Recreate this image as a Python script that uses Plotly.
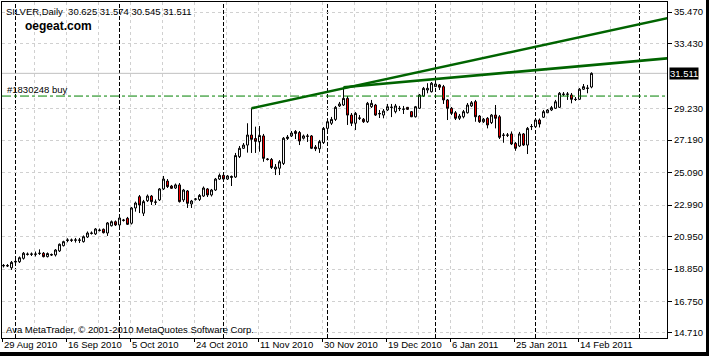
import plotly.graph_objects as go

# ---------------- data (SILVER, Daily) ----------------
open_ = [19.05, 19.08, 18.93, 19.30, 19.32, 19.54, 19.82, 19.80, 19.82, 19.85,
         19.87, 19.65, 19.79, 19.76, 20.02, 20.36, 20.69, 20.73, 20.71, 20.73,
         20.62, 20.92, 21.18, 21.12, 21.37, 21.42, 21.18, 21.65, 21.91, 21.70,
         22.02, 22.13, 21.81, 22.80, 23.53, 22.46, 23.27, 23.57, 23.19, 23.32,
         24.03, 24.54, 24.22, 24.09, 24.29, 23.32, 23.90, 23.06, 23.36, 23.35,
         23.57, 24.03, 23.64, 23.96, 24.67, 24.91, 24.67, 24.77, 24.80, 26.12,
         26.66, 26.87, 27.52, 27.29, 27.09, 27.46, 25.97, 25.94, 25.32, 25.37,
         25.68, 27.29, 27.46, 27.75, 27.68, 27.31, 27.46, 27.46, 26.74, 26.63,
         27.03, 27.95, 28.28, 28.53, 29.40, 29.46, 29.89, 28.81, 28.28, 28.60,
         28.54, 28.38, 29.35, 29.46, 28.88, 28.81, 29.14, 29.30, 29.03, 29.25,
         29.18, 29.31, 29.03, 28.70, 29.25, 30.04, 30.43, 30.32, 30.65, 30.76,
         30.65, 29.79, 29.25, 28.96, 28.60, 28.70, 28.96, 29.40, 29.68, 28.75,
         28.38, 28.60, 28.32, 28.81, 28.70, 27.52, 27.50, 27.59, 26.98, 26.81,
         27.59, 26.87, 28.06, 28.06, 28.49, 28.67, 28.96, 29.14, 29.25, 29.31,
         30.17, 30.15, 30.11, 29.83, 29.83, 30.48, 30.53, 30.625]
high = [19.17, 19.17, 19.37, 19.43, 19.66, 19.95, 19.92, 19.92, 19.98, 20.12,
        19.95, 19.92, 19.85, 20.14, 20.50, 20.68, 20.84, 20.82, 20.86, 20.86,
        21.02, 21.28, 21.28, 21.50, 21.47, 21.47, 21.89, 21.99, 21.99, 22.22,
        22.09, 22.22, 22.86, 23.21, 23.64, 23.32, 23.67, 23.64, 23.35, 24.09,
        24.87, 24.67, 24.29, 24.38, 24.41, 24.03, 23.96, 23.32, 23.44, 23.70,
        24.19, 24.09, 24.03, 24.74, 25.03, 25.00, 24.93, 24.90, 26.36, 26.81,
        27.00, 28.28, 29.25, 28.06, 28.10, 27.59, 26.03, 26.03, 25.64, 25.90,
        27.39, 27.52, 27.78, 27.84, 27.78, 27.55, 27.59, 27.52, 26.87, 27.20,
        28.04, 28.56, 28.69, 29.40, 29.66, 30.61, 30.04, 28.94, 29.01, 28.81,
        28.62, 29.66, 29.79, 29.53, 29.14, 29.20, 29.53, 29.53, 29.53, 29.40,
        29.40, 29.33, 29.07, 29.40, 30.17, 30.63, 30.87, 30.95, 31.19, 30.82,
        30.76, 29.85, 29.33, 29.07, 28.88, 29.14, 29.59, 29.72, 29.79, 28.81,
        28.62, 28.68, 28.88, 29.46, 28.81, 27.65, 27.65, 27.75, 27.07, 27.72,
        27.65, 28.04, 28.23, 28.62, 28.59, 29.14, 29.20, 29.40, 29.79, 30.30,
        30.30, 30.30, 30.24, 29.98, 30.56, 30.82, 30.76, 31.574]
low = [18.95, 18.98, 18.79, 19.21, 19.24, 19.46, 19.72, 19.69, 19.66, 19.76,
       19.60, 19.60, 19.69, 19.66, 19.95, 20.31, 20.58, 20.60, 20.56, 20.53,
       20.56, 20.86, 21.08, 21.05, 21.28, 21.15, 20.99, 21.60, 21.63, 21.44,
       21.92, 21.70, 21.73, 22.56, 22.47, 22.28, 23.19, 22.99, 22.99, 23.25,
       23.96, 24.09, 24.03, 24.03, 23.15, 23.19, 22.80, 22.80, 23.28, 23.25,
       23.51, 23.51, 23.54, 23.90, 24.61, 24.61, 24.61, 24.22, 24.74, 26.03,
       26.62, 26.38, 26.36, 26.36, 26.44, 25.79, 25.87, 25.32, 24.93, 24.93,
       25.58, 27.20, 27.39, 27.26, 26.87, 27.23, 27.07, 26.61, 26.48, 26.36,
       26.94, 27.84, 28.17, 28.43, 29.33, 29.40, 28.17, 28.10, 27.84, 28.49,
       28.30, 28.30, 29.27, 28.75, 28.62, 28.60, 29.07, 28.68, 28.92, 29.07,
       28.88, 29.14, 28.68, 28.65, 29.20, 29.98, 30.22, 30.27, 30.63, 30.43,
       29.53, 28.49, 28.81, 28.49, 28.49, 28.60, 28.91, 29.33, 28.38, 28.30,
       28.30, 27.95, 28.23, 27.95, 27.26, 27.02, 27.39, 26.87, 26.50, 26.74,
       26.81, 26.29, 27.84, 27.97, 28.01, 28.62, 28.94, 29.07, 29.20, 29.27,
       30.04, 29.79, 29.57, 29.72, 29.79, 30.43, 30.22, 30.545]
close = [19.08, 19.05, 19.28, 19.34, 19.58, 19.87, 19.80, 19.82, 19.81, 19.87,
         19.65, 19.85, 19.76, 20.08, 20.45, 20.62, 20.73, 20.71, 20.73, 20.71,
         20.94, 21.18, 21.16, 21.44, 21.35, 21.20, 21.83, 21.91, 21.70, 22.15,
         22.00, 21.74, 22.80, 23.12, 22.99, 23.21, 23.57, 23.21, 23.17, 24.03,
         24.67, 24.18, 24.07, 24.29, 23.21, 23.96, 23.10, 23.25, 23.38, 23.61,
         24.09, 23.64, 23.96, 24.67, 24.91, 24.67, 24.87, 24.84, 26.19, 26.66,
         26.87, 27.52, 27.24, 27.11, 27.49, 26.01, 25.94, 25.42, 25.45, 25.79,
         27.31, 27.39, 27.65, 27.62, 27.13, 27.46, 27.44, 26.66, 26.63, 27.09,
         27.95, 28.38, 28.53, 29.31, 29.53, 29.89, 28.81, 28.28, 28.92, 28.62,
         28.38, 29.57, 29.57, 28.81, 28.91, 29.07, 29.35, 29.32, 29.40, 29.23,
         29.20, 29.18, 28.70, 29.35, 30.11, 30.54, 30.54, 30.87, 30.82, 30.61,
         29.79, 29.25, 28.92, 28.60, 28.75, 29.03, 29.46, 29.61, 28.70, 28.38,
         28.54, 28.17, 28.81, 28.60, 27.37, 27.50, 27.52, 26.94, 26.66, 27.59,
         26.87, 27.95, 28.07, 28.49, 28.23, 29.03, 29.14, 29.29, 29.67, 30.22,
         30.15, 30.17, 29.83, 29.82, 30.48, 30.65, 30.56, 31.511]

date_labels = ["29 Aug 2010", "16 Sep 2010", "5 Oct 2010", "24 Oct 2010",
               "11 Nov 2010", "30 Nov 2010", "19 Dec 2010", "6 Jan 2011",
               "25 Jan 2011", "14 Feb 2011"]
bars_per_label = 16
month_start_bars = [3, 29, 55, 81, 108, 133, 159]

price_ticks = [35.470, 33.430, 29.230, 27.190, 25.090, 22.990, 20.950, 18.850, 16.750, 14.710]

trend1_bars = [62, 166]
trend1_prices = [29.25, 35.08]
trend2_bars = [85, 166]
trend2_prices = [30.61, 32.48]

order_price = 30.04
order_label = "#1830248 buy"
bid_price = 31.511
title_text = "SILVER,Daily\u00a0 30.625 31.574 30.545 31.511"

# ---------------- layout helpers ----------------
W, H = 709, 356
L, R, T, B = 2, 42, 2, 18
PW, PH = W - L - R, H - T - B
FONT = "Liberation Sans, Arial, sans-serif"


def px_x(px):
    return (px - L) / PW


def px_y(py):
    return (H - B - py) / PH


bars = list(range(len(open_)))
label_pos = [-0.25 + bars_per_label * k for k in range(len(date_labels))]
minor_pos = [p + bars_per_label / 2 for p in label_pos] + [label_pos[-1] + 24]

fig = go.Figure()

fig.add_trace(go.Candlestick(
    x=bars, open=open_, high=high, low=low, close=close,
    increasing=dict(line=dict(color="black", width=1), fillcolor="white"),
    decreasing=dict(line=dict(color="black", width=1), fillcolor="#ff0000"),
    whiskerwidth=0, hoverinfo="skip", showlegend=False,
))

for bx, py in ((trend1_bars, trend1_prices), (trend2_bars, trend2_prices)):
    fig.add_trace(go.Scatter(x=bx, y=py, mode="lines",
                             line=dict(color="#006400", width=2.6),
                             hoverinfo="skip", showlegend=False))

shapes = []
for b in month_start_bars:
    shapes.append(dict(type="line", xref="x", yref="paper", x0=b, x1=b, y0=0, y1=1,
                       line=dict(color="black", width=1, dash="4px,2px"), layer="between"))
shapes.append(dict(type="line", xref="paper", yref="y", x0=0, x1=1, y0=bid_price, y1=bid_price,
                   line=dict(color="#c0c0c0", width=1), layer="between"))
shapes.append(dict(type="line", xref="paper", yref="y", x0=0, x1=1, y0=order_price, y1=order_price,
                   line=dict(color="#008000", width=1, dash="9px,3px,3px,3px"), layer="above"))
# window frame (right and bottom dark edges)
shapes.append(dict(type="rect", xref="paper", yref="paper", x0=px_x(706), x1=px_x(710),
                   y0=px_y(357), y1=px_y(0), fillcolor="black", line=dict(width=0), layer="above"))
shapes.append(dict(type="rect", xref="paper", yref="paper", x0=px_x(-1), x1=px_x(710),
                   y0=px_y(357), y1=px_y(352), fillcolor="black", line=dict(width=0), layer="above"))

annotations = []
annotations.append(dict(xref="paper", yref="paper", x=px_x(4), y=px_y(11.5), text=title_text,
                        showarrow=False, xanchor="left", yanchor="middle",
                        font=dict(family=FONT, size=9.5, color="black")))
annotations.append(dict(xref="paper", yref="paper", x=px_x(23), y=px_y(26.5), text="<b>oegeat.com</b>",
                        showarrow=False, xanchor="left", yanchor="middle",
                        font=dict(family=FONT, size=12, color="black")))
annotations.append(dict(xref="paper", yref="paper", x=px_x(5), y=px_y(90), text=order_label,
                        showarrow=False, xanchor="left", yanchor="middle",
                        font=dict(family=FONT, size=9.5, color="black")))
annotations.append(dict(xref="paper", yref="paper", x=px_x(4), y=px_y(329),
                        text="Ava MetaTrader, \u00a9 2001-2010 MetaQuotes Software Corp.",
                        showarrow=False, xanchor="left", yanchor="middle",
                        font=dict(family=FONT, size=9.5, color="black")))
for pos, txt in zip(label_pos, date_labels):
    annotations.append(dict(xref="x", yref="paper", x=pos, y=px_y(344.5), text=txt,
                            showarrow=False, xanchor="left", yanchor="middle", xshift=-1,
                            font=dict(family=FONT, size=9.5, color="black")))
annotations.append(dict(xref="paper", yref="y", x=1, y=bid_price, text="31.511",
                        showarrow=False, xanchor="left", yanchor="middle", xshift=2,
                        bgcolor="black", borderpad=0,
                        font=dict(family=FONT, size=9.5, color="white")))

grid_style = dict(gridcolor="#d0d0d0", griddash="3px,3px", gridwidth=1)

fig.update_layout(
    template="none",
    width=W, height=H,
    margin=dict(l=L, r=R, t=T, b=B, pad=0, autoexpand=False),
    paper_bgcolor="white", plot_bgcolor="white",
    showlegend=False, hovermode=False,
    shapes=shapes, annotations=annotations,
    font=dict(family=FONT, size=9.5, color="black"),
    xaxis=dict(range=[-0.375, 165.875], rangeslider=dict(visible=False), automargin=False,
               tickmode="array", tickvals=label_pos, showticklabels=False,
               ticks="outside", ticklen=3, tickcolor="black",
               showline=True, linecolor="black", linewidth=1, mirror=True,
               zeroline=False, showgrid=True, **grid_style,
               minor=dict(tickvals=minor_pos, showgrid=True, ticks="", **grid_style)),
    yaxis=dict(range=[14.386, 36.126], side="right", automargin=False,
               tickmode="array", tickvals=price_ticks,
               ticktext=["%.3f" % v for v in price_ticks],
               ticks="outside", ticklen=4, tickcolor="black",
               tickfont=dict(family=FONT, size=9.5, color="black"),
               showline=True, linecolor="black", linewidth=1, mirror=True,
               zeroline=False, showgrid=True, **grid_style),
)

fig.write_html("out.html",
               config={"displayModeBar": False, "staticPlot": True},
               post_script="document.body.style.margin='0px';document.body.style.padding='0px';"
                           "document.body.style.overflow='hidden';")
